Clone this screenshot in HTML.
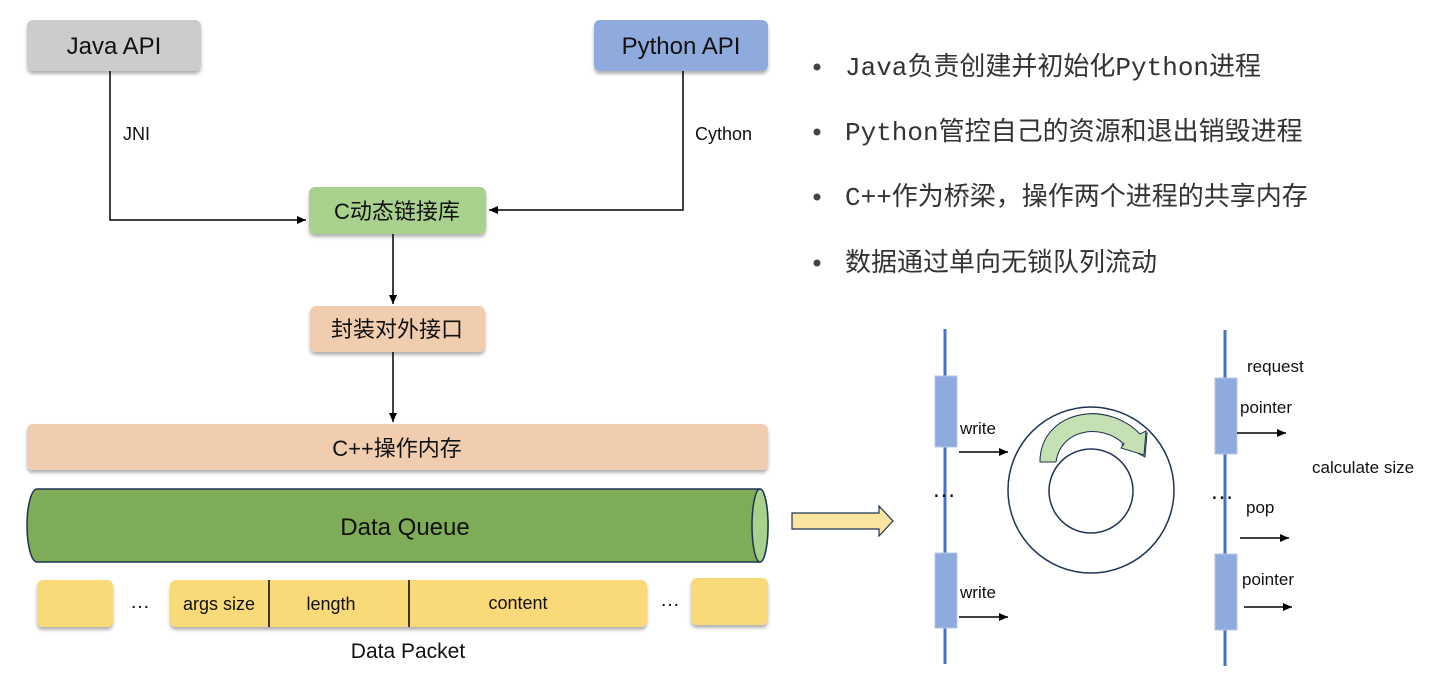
<!DOCTYPE html>
<html><head><meta charset="utf-8"><style>
body{margin:0;background:#fff;}
svg{display:block;}
.s{font-family:"Liberation Sans","Noto Sans CJK SC",sans-serif;fill:#111;}
.b{font-family:"Liberation Mono","Noto Sans CJK SC",monospace;fill:#333;font-size:26px;}
</style></head><body>
<svg width="1440" height="675" viewBox="0 0 1440 675" xmlns="http://www.w3.org/2000/svg">
<defs>
<marker id="ah" markerWidth="10" markerHeight="10" refX="9" refY="5" orient="auto" markerUnits="userSpaceOnUse"><path d="M0,1 L9,5 L0,9 Z" fill="#000"/></marker>
<filter id="sh" x="-5%" y="-10%" width="110%" height="130%"><feDropShadow dx="0" dy="3" stdDeviation="1.5" flood-color="#000" flood-opacity="0.3"/></filter>
</defs>
<rect x="27" y="20" width="174" height="51" rx="6" fill="#cccccc" filter="url(#sh)"/>
<text x="114" y="54" class="s" font-size="24" text-anchor="middle">Java API</text>
<rect x="594" y="20" width="174" height="51" rx="6" fill="#8faadc" filter="url(#sh)"/>
<text x="681" y="54" class="s" font-size="24" text-anchor="middle">Python API</text>
<polyline points="110,71 110,220 306,220" fill="none" stroke="#000" stroke-width="1.5" marker-end="url(#ah)"/>
<text x="123" y="140" class="s" font-size="18">JNI</text>
<polyline points="683,71 683,210 489,210" fill="none" stroke="#000" stroke-width="1.5" marker-end="url(#ah)"/>
<text x="695" y="140" class="s" font-size="18">Cython</text>
<rect x="309" y="187" width="177" height="47" rx="6" fill="#a9d18e" filter="url(#sh)"/>
<text x="397" y="219" class="s" font-size="22" text-anchor="middle">C动态链接库</text>
<line x1="393" y1="234" x2="393" y2="304" stroke="#000" stroke-width="1.5" marker-end="url(#ah)"/>
<rect x="310" y="306" width="175" height="46" rx="6" fill="#f1cdb0" filter="url(#sh)"/>
<text x="397" y="337" class="s" font-size="22" text-anchor="middle">封装对外接口</text>
<line x1="393" y1="352" x2="393" y2="422" stroke="#000" stroke-width="1.5" marker-end="url(#ah)"/>
<rect x="27" y="424" width="741" height="46" rx="6" fill="#f1cdb0" filter="url(#sh)"/>
<text x="397" y="456" class="s" font-size="22" text-anchor="middle">C++操作内存</text>
<path d="M37,489 L760,489 A8,36.5 0 0 1 760,562 L37,562 A10,36.5 0 0 1 37,489 Z" fill="#7fac56" stroke="#1f3354" stroke-width="1.5"/>
<ellipse cx="760" cy="525.5" rx="8" ry="36.5" fill="#a9d18e" stroke="#1f3354" stroke-width="1.5"/>
<text x="405" y="535" class="s" font-size="24" text-anchor="middle">Data Queue</text>
<rect x="37" y="580" width="76" height="47" rx="6" fill="#f9d978" filter="url(#sh)"/>
<text x="140" y="608" class="s" font-size="20" text-anchor="middle">…</text>
<rect x="170" y="580" width="477" height="47" rx="6" fill="#f9d978" filter="url(#sh)"/>
<line x1="269" y1="580" x2="269" y2="627" stroke="#000" stroke-width="1.5"/>
<line x1="409" y1="580" x2="409" y2="627" stroke="#000" stroke-width="1.5"/>
<text x="219" y="610" class="s" font-size="18" text-anchor="middle">args size</text>
<text x="331" y="610" class="s" font-size="18" text-anchor="middle">length</text>
<text x="518" y="609" class="s" font-size="18" text-anchor="middle">content</text>
<text x="670" y="606" class="s" font-size="20" text-anchor="middle">…</text>
<rect x="691" y="578" width="77" height="47" rx="6" fill="#f9d978" filter="url(#sh)"/>
<text x="408" y="658" class="s" font-size="21" text-anchor="middle">Data Packet</text>
<path d="M792,513 L879,513 L879,506 L893,521 L879,536 L879,529 L792,529 Z" fill="#fbe3a0" stroke="#1f3354" stroke-width="1.2"/>
<g class="b">
<circle cx="817" cy="67" r="3.5" fill="#444"/><text x="845" y="75">Java负责创建并初始化Python进程</text>
<circle cx="817" cy="132" r="3.5" fill="#444"/><text x="845" y="140">Python管控自己的资源和退出销毁进程</text>
<circle cx="817" cy="197" r="3.5" fill="#444"/><text x="845" y="205">C++作为桥梁，操作两个进程的共享内存</text>
<circle cx="817" cy="263" r="3.5" fill="#444"/><text x="845" y="271">数据通过单向无锁队列流动</text>
</g>
<line x1="945" y1="329" x2="945" y2="664" stroke="#4472c4" stroke-width="3"/>
<rect x="935" y="376" width="22" height="71" fill="#8faadc" stroke="#b4c7e7"/>
<rect x="935" y="553" width="22" height="75" fill="#8faadc" stroke="#b4c7e7"/>
<text x="960" y="434" class="s" font-size="17">write</text>
<line x1="959" y1="452" x2="1008" y2="452" stroke="#000" stroke-width="1.5" marker-end="url(#ah)"/>
<text x="944" y="497" class="s" font-size="24" text-anchor="middle">…</text>
<text x="960" y="598" class="s" font-size="17">write</text>
<line x1="959" y1="617" x2="1008" y2="617" stroke="#000" stroke-width="1.5" marker-end="url(#ah)"/>
<circle cx="1091" cy="490" r="83" fill="#fff" stroke="#1f3354" stroke-width="1.5"/>
<circle cx="1091" cy="491" r="42" fill="#fff" stroke="#1f3354" stroke-width="1.5"/>
<path d="M1040,462 C1040,420 1100,405 1126,440 L1122,445 L1145,457 L1147,433 L1141,437 C1108,396 1040,412 1040,462 Z" fill="#c5e0b3" stroke="#1f3354" stroke-width="1"/>
<path d="M1040,462 L1056,462 C1060,430 1100,422 1124,444 L1121,448 L1144,455 L1146,431 L1140,434 C1105,398 1040,412 1040,462 Z" fill="#c5e0b3" stroke="#1f3354" stroke-width="1"/>
<line x1="1225" y1="330" x2="1225" y2="666" stroke="#4472c4" stroke-width="3"/>
<rect x="1215" y="378" width="22" height="76" fill="#8faadc" stroke="#b4c7e7"/>
<rect x="1215" y="554" width="22" height="76" fill="#8faadc" stroke="#b4c7e7"/>
<text x="1247" y="372" class="s" font-size="17">request</text>
<text x="1240" y="413" class="s" font-size="17">pointer</text>
<line x1="1237" y1="433" x2="1286" y2="433" stroke="#000" stroke-width="1.5" marker-end="url(#ah)"/>
<text x="1312" y="473" class="s" font-size="17">calculate size</text>
<text x="1222" y="499" class="s" font-size="24" text-anchor="middle">…</text>
<text x="1246" y="513" class="s" font-size="17">pop</text>
<line x1="1240" y1="538" x2="1289" y2="538" stroke="#000" stroke-width="1.5" marker-end="url(#ah)"/>
<text x="1242" y="585" class="s" font-size="17">pointer</text>
<line x1="1244" y1="607" x2="1292" y2="607" stroke="#000" stroke-width="1.5" marker-end="url(#ah)"/>
</svg>
</body></html>
